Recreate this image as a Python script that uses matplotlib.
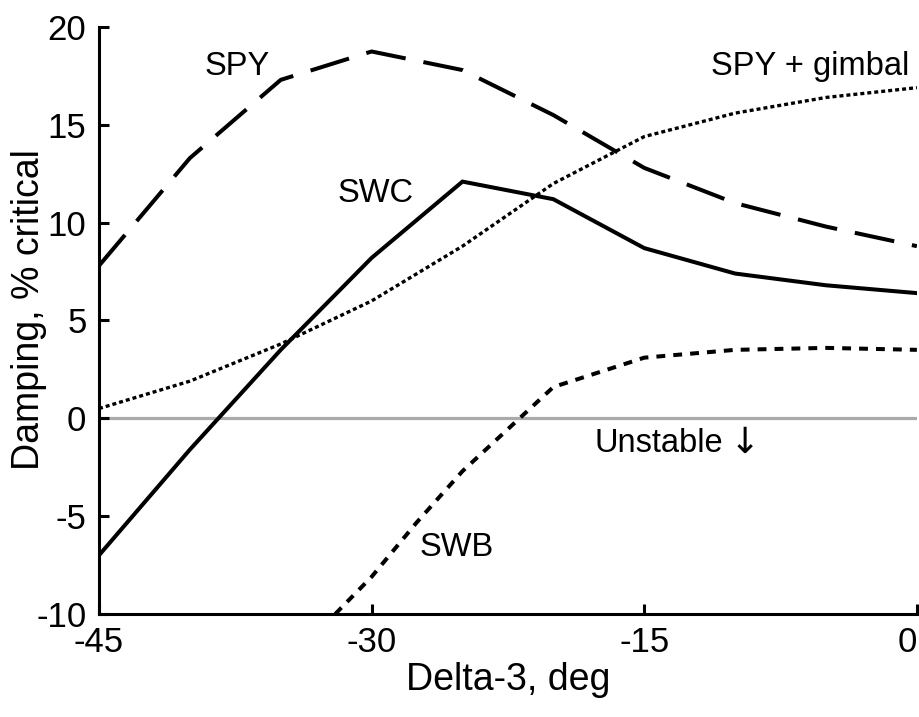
import matplotlib
matplotlib.use("Agg")
import matplotlib.pyplot as plt

plt.rcParams['font.family'] = ['Liberation Sans', 'DejaVu Sans']

# data
x_swc = [-45, -40, -35, -30, -25, -20, -15, -10, -5, 0]
y_swc = [-7.0, -1.6, 3.5, 8.2, 12.1, 11.2, 8.7, 7.4, 6.8, 6.4]

x_spy = [-45, -40, -35, -30, -25, -20, -15, -10, -5, 0]
y_spy = [7.8, 13.3, 17.3, 18.75, 17.8, 15.5, 12.8, 11.0, 9.8, 8.8]

x_gim = [-45, -40, -35, -30, -25, -20, -15, -10, -5, 0]
y_gim = [0.5, 1.9, 3.8, 6.0, 8.8, 12.0, 14.4, 15.6, 16.4, 16.9]

x_swb = [-32, -30, -27.5, -25, -20, -15, -10, -5, 0]
y_swb = [-10.0, -8.1, -5.3, -2.7, 1.6, 3.1, 3.5, 3.6, 3.5]

xticks = [-45, -30, -15, 0]
yticks = [-10, -5, 0, 5, 10, 15, 20]

fig = plt.figure(figsize=(9.2, 7.17), dpi=100)
ax = fig.add_axes([0.1076, 0.1437, 0.889, 0.8186])

ax.axhline(0, color='#aaaaaa', lw=2.3, zorder=1)
ax.plot(x_swc, y_swc, color='black', lw=2.9, solid_joinstyle='miter')
ax.plot(x_spy, y_spy, color='black', lw=2.9, dashes=(10, 4.5))
ax.plot(x_gim, y_gim, color='black', lw=2.4, dashes=(1.2, 0.9))
ax.plot(x_swb, y_swb, color='black', lw=2.9, dashes=(2.2, 2.0))

ax.text(-37.4, 18.0, 'SPY', fontsize=23.5, ha='center', va='center')
ax.text(-29.8, 11.5, 'SWC', fontsize=23.5, ha='center', va='center')
ax.text(-0.4, 18.0, 'SPY + gimbal', fontsize=23.5, ha='right', va='center')
ax.text(-25.3, -6.6, 'SWB', fontsize=23.5, ha='center', va='center')
ax.text(-17.75, -1.3, 'Unstable', fontsize=23.5, ha='left', va='center')
ax.text(-9.45, -1.25, '\u2193', fontsize=26, ha='center', va='center',
        family='DejaVu Sans')

ax.set_xlim(-45, 0)
ax.set_ylim(-10, 20)
ax.set_xticks(xticks)
ax.set_yticks(yticks)
ax.set_xticklabels([str(t) for t in xticks])
ax.set_yticklabels([str(t) for t in yticks])
ax.tick_params(direction='in', length=7, width=2.2, labelsize=25, pad=9)
ax.get_xticklabels()[-1].set_horizontalalignment('right')
ax.spines['top'].set_visible(False)
ax.spines['right'].set_visible(False)
ax.spines['left'].set_linewidth(2.2)
ax.spines['bottom'].set_linewidth(2.2)

ax.set_xlabel('Delta-3, deg', fontsize=27, labelpad=2)
ax.set_ylabel('Damping, % critical', fontsize=27)
ax.yaxis.set_label_coords(-0.064, 0.518)

fig.savefig('out.png', dpi=100)
